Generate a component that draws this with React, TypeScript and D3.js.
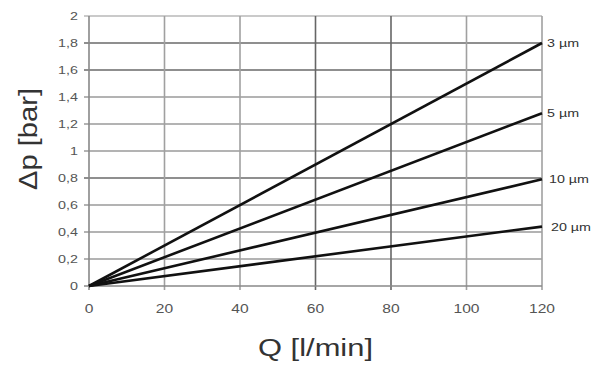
import { useEffect, useRef } from 'react';
import * as d3 from 'd3';

// flow rate in l/min
const flowTicks = [0, 20, 40, 60, 80, 100, 120];
// pressure drop in bar
const dpTicks = [0, 0.2, 0.4, 0.6, 0.8, 1, 1.2, 1.4, 1.6, 1.8, 2];
const dpTickLabels = ['0', '0,2', '0,4', '0,6', '0,8', '1', '1,2', '1,4', '1,6', '1,8', '2'];

const filters = ['3 µm', '5 µm', '10 µm', '20 µm'];
const flow = [0, 120];
const dp3 = [0, 1.8];
const dp5 = [0, 1.28];
const dp10 = [0, 0.79];
const dp20 = [0, 0.44];
const seriesValues = [dp3, dp5, dp10, dp20];

const W = 600;
const H = 368;

export default function App() {
  const svgRef = useRef<SVGSVGElement>(null);

  useEffect(() => {
    if (!svgRef.current) return;
    const svg = d3.select(svgRef.current);
    svg.selectAll('*').remove();

    const font = 'Liberation Sans, Arial, Helvetica, sans-serif';
    const stretch = 1.3; // the scan is wider than it is tall

    const x = d3.scaleLinear().domain([0, 120]).range([89, 542]);
    const y = d3.scaleLinear().domain([0, 2]).range([286, 16]);

    // grid lines that came out darker in the scan
    const darkY = [0.8, 1.6, 1.8];
    const darkX = [60, 80];

    const grid = svg.append('g');
    dpTicks.forEach(v => {
      if (v === 0) return;
      grid.append('line')
        .attr('x1', x(0) - 5).attr('x2', x(120))
        .attr('y1', y(v)).attr('y2', y(v))
        .attr('stroke', darkY.includes(v) ? '#6a6a6a' : v === 2 ? '#b8b8b8' : '#9a9a9a')
        .attr('stroke-width', 1.6);
    });
    flowTicks.forEach(v => {
      if (v === 0) return;
      grid.append('line')
        .attr('x1', x(v)).attr('x2', x(v))
        .attr('y1', y(2)).attr('y2', y(0) + 4)
        .attr('stroke', darkX.includes(v) ? '#666' : '#a0a0a0')
        .attr('stroke-width', 1.6);
    });

    // axes
    svg.append('line')
      .attr('x1', x(0)).attr('x2', x(0))
      .attr('y1', y(2)).attr('y2', y(0) + 4)
      .attr('stroke', '#888').attr('stroke-width', 1.6);
    svg.append('line')
      .attr('x1', x(0) - 5).attr('x2', x(120))
      .attr('y1', y(0)).attr('y2', y(0))
      .attr('stroke', '#888').attr('stroke-width', 1.6);

    // tick labels
    dpTicks.forEach((v, i) => {
      svg.append('text')
        .attr('transform', `translate(78, ${y(v)}) scale(${stretch}, 1)`)
        .attr('text-anchor', 'end')
        .attr('dy', '0.36em')
        .attr('font-family', font)
        .attr('font-size', 11)
        .attr('fill', '#555')
        .text(dpTickLabels[i]);
    });
    flowTicks.forEach(v => {
      svg.append('text')
        .attr('transform', `translate(${x(v)}, 313) scale(${stretch}, 1)`)
        .attr('text-anchor', 'middle')
        .attr('font-family', font)
        .attr('font-size', 12)
        .attr('fill', '#555')
        .text(v);
    });

    // curves
    const line = d3.line<number>()
      .x((_, i) => x(flow[i]))
      .y(d => y(d));

    seriesValues.forEach((vals, k) => {
      svg.append('path')
        .attr('d', line(vals) || '')
        .attr('fill', 'none')
        .attr('stroke', '#111')
        .attr('stroke-width', 2.6);

      const last = vals[vals.length - 1];
      svg.append('text')
        .attr('transform', `translate(${x(120) + 5 + (k >= 2 ? 2 + (k - 2) * 2 : 0)}, ${y(last)}) scale(${stretch}, 1)`)
        .attr('dy', '0.36em')
        .attr('font-family', font)
        .attr('font-size', 11)
        .attr('fill', '#333')
        .text(filters[k]);
    });

    // axis titles
    svg.append('text')
      .attr('x', 315.5)
      .attr('y', 356)
      .attr('text-anchor', 'middle')
      .attr('font-family', font)
      .attr('font-size', 23)
      .attr('fill', '#333')
      .attr('textLength', 115)
      .attr('lengthAdjust', 'spacingAndGlyphs')
      .text('Q [l/min]');

    svg.append('text')
      .attr('transform', 'translate(37, 139) rotate(-90)')
      .attr('text-anchor', 'middle')
      .attr('font-family', font)
      .attr('font-size', 25)
      .attr('fill', '#333')
      .attr('textLength', 102)
      .attr('lengthAdjust', 'spacingAndGlyphs')
      .text('Δp [bar]');
  }, []);

  return (
    <div style={{ position: 'absolute', left: 0, top: 0, width: W, height: H, background: '#fff' }}>
      <svg ref={svgRef} width={W} height={H} style={{ display: 'block' }} />
    </div>
  );
}
